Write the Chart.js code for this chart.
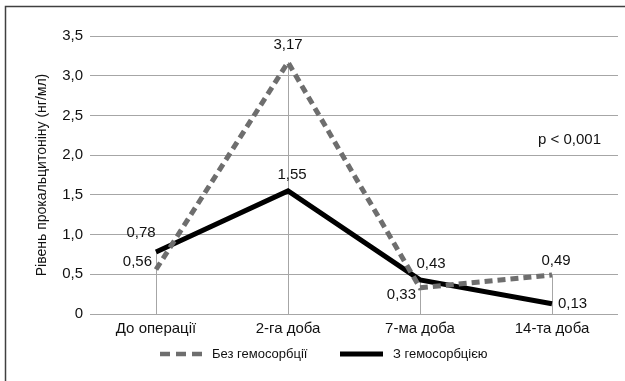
<!DOCTYPE html>
<html>
<head>
<meta charset="utf-8">
<script src="https://cdn.jsdelivr.net/npm/chart.js@4"></script>
<style>
  html, body { margin: 0; padding: 0; background: #fff; }
</style>
</head>
<body>
<canvas id="c" width="625" height="381"></canvas>
<script>
const categories = ['До операції', '2-га доба', '7-ма доба', '14-та доба'];
const withoutHemo = [0.56, 3.17, 0.33, 0.49];
const withHemo = [0.78, 1.55, 0.43, 0.13];
const seriesNames = ['Без гемосорбції', 'З гемосорбцією'];
const yTicks = [0, 0.5, 1, 1.5, 2, 2.5, 3, 3.5];

const FONT = '"Liberation Sans", Arial, sans-serif';

// label offsets per series / point (dx, dy from point, align)
const labelPos = [
  [[-4, -8, 'right'], [0, -17, 'center'], [-4, 7, 'right'], [4, -14, 'center']],
  [[-15, -19, 'center'], [4, -16, 'center'], [11, -16, 'center'], [6, 0, 'left']]
];

const extras = {
  id: 'extras',
  beforeDatasetsDraw(chart) {
    const { ctx } = chart;
    const xs = chart.scales.x, ys = chart.scales.y;
    ctx.save();
    ctx.strokeStyle = '#a6a6a6';
    ctx.lineWidth = 1;
    categories.forEach((c, i) => {
      const x = Math.round(xs.getPixelForValue(i)) + 0.5;
      const top = Math.max(withoutHemo[i], withHemo[i]);
      ctx.beginPath();
      ctx.moveTo(x, ys.getPixelForValue(0));
      ctx.lineTo(x, ys.getPixelForValue(top));
      ctx.stroke();
    });
    ctx.restore();
  },
  afterDatasetsDraw(chart) {
    const { ctx, chartArea } = chart;
    ctx.save();
    ctx.fillStyle = '#111';
    ctx.font = '15px ' + FONT;
    ctx.textBaseline = 'middle';
    [withoutHemo, withHemo].forEach((vals, d) => {
      const pts = chart.getDatasetMeta(d).data;
      vals.forEach((v, i) => {
        const p = labelPos[d][i];
        ctx.textAlign = p[2];
        ctx.fillText(v.toFixed(2).replace('.', ','), pts[i].x + p[0], pts[i].y + p[1]);
      });
    });
    ctx.textAlign = 'right';
    ctx.fillText('p < 0,001', chartArea.right - 17, chart.scales.y.getPixelForValue(2.19));

    // legend
    const ly = 354;
    const items = [[160, 212], [340, 393]];
    ctx.font = '13px ' + FONT;
    ctx.textAlign = 'left';
    chart.data.datasets.forEach((ds, d) => {
      const [sx, tx] = items[d];
      ctx.strokeStyle = ds.borderColor;
      ctx.lineWidth = d === 0 ? 4.5 : 5;
      ctx.setLineDash(d === 0 ? [10, 6] : []);
      ctx.beginPath();
      ctx.moveTo(sx, ly);
      ctx.lineTo(sx + 43, ly);
      ctx.stroke();
      ctx.fillText(ds.label, tx, ly);
    });
    ctx.setLineDash([]);

    // frame
    ctx.strokeStyle = '#404040';
    ctx.lineWidth = 1.5;
    ctx.beginPath();
    ctx.moveTo(5.5, chart.height);
    ctx.lineTo(5.5, 6.5);
    ctx.lineTo(chart.width, 6.5);
    ctx.stroke();
    ctx.restore();
  }
};

new Chart(document.getElementById('c'), {
  type: 'line',
  data: {
    labels: categories,
    datasets: [
      { label: seriesNames[0], data: withoutHemo, borderColor: '#6e6e6e', backgroundColor: '#6e6e6e',
        borderWidth: 5, borderDash: [8, 5], pointRadius: 0, tension: 0 },
      { label: seriesNames[1], data: withHemo, borderColor: '#000', backgroundColor: '#000',
        borderWidth: 5, pointRadius: 0, tension: 0 }
    ]
  },
  options: {
    responsive: false,
    animation: false,
    layout: { padding: { top: 36, right: 7, left: 34, bottom: 43 } },
    plugins: {
      tooltip: { enabled: false },
      legend: { display: false }
    },
    scales: {
      x: {
        offset: true,
        grid: { display: false, drawTicks: false },
        border: { display: false },
        ticks: { color: '#111', padding: 6, font: { family: FONT, size: 15 } },
        afterFit: (s) => { s.height = 24; }
      },
      y: {
        min: 0, max: 3.5,
        afterBuildTicks: (s) => { s.ticks = yTicks.map(v => ({ value: v })); },
        afterFit: (s) => { s.width = 56; },
        grid: { color: '#a6a6a6', drawTicks: false },
        border: { display: false },
        title: { display: true, text: 'Рівень прокальцитоніну (нг/мл)', color: '#111',
          font: { family: FONT, size: 14 }, padding: 0 },
        ticks: { color: '#111', padding: 7, font: { family: FONT, size: 15 },
          callback: (v) => v === 0 ? '0' : v.toFixed(1).replace('.', ',') }
      }
    }
  },
  plugins: [extras]
});
</script>
</body>
</html>
